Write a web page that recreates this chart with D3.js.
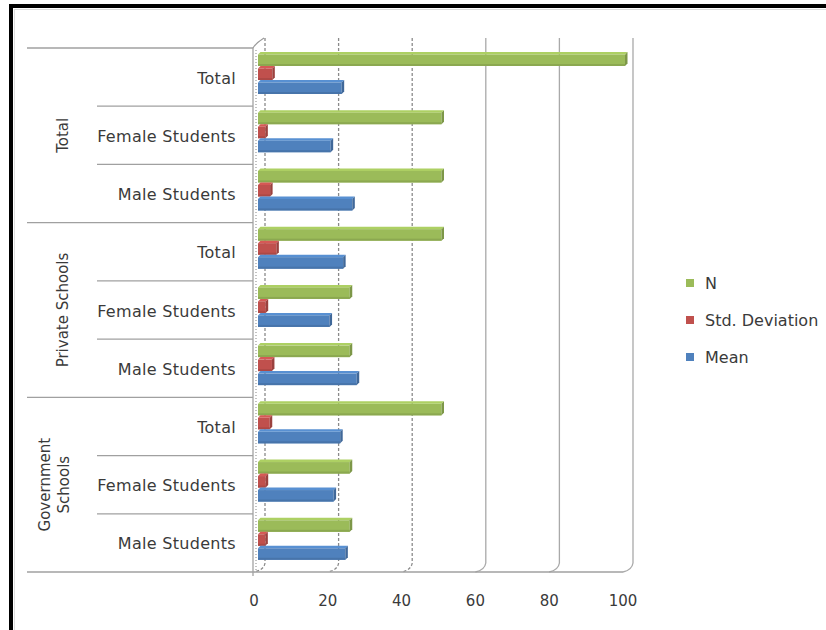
<!DOCTYPE html>
<html>
<head>
<meta charset="utf-8">
<script src="https://cdn.jsdelivr.net/npm/d3@7"></script>
<style>
  html, body { margin: 0; padding: 0; background: #fff; }
  svg { display: block; }
  text { font-family: "DejaVu Sans", sans-serif; fill: #3a3a3a; }
</style>
</head>
<body>
<svg id="chart" width="826" height="630"></svg>
<script>
// ---- data (bottom to top as in the chart) ----
const groups = ["Government Schools", "Private Schools", "Total"];
const subcats = ["Male Students", "Female Students", "Total"];
const series = ["N", "Std. Deviation", "Mean"];
const seriesColors = ["#9bbb59", "#c0504d", "#4f81bd"];
// values per category, order: Gov Male, Gov Female, Gov Total, Priv Male, Priv Female, Priv Total, Tot Male, Tot Female, Tot Total
const nValues    = [25, 25, 50, 25, 25, 50, 50, 50, 100];
const sdValues   = [2.0, 2.1, 3.2, 3.8, 2.1, 5.0, 3.3, 2.0, 3.9];
const meanValues = [23.8, 20.6, 22.4, 26.9, 19.5, 23.2, 25.7, 19.8, 22.8];
const xTicks = [0, 20, 40, 60, 80, 100];

(function () {
const svg = d3.select("#chart");

// frame
svg.append("rect").attr("x", 0).attr("y", 0).attr("width", 826).attr("height", 630).attr("fill", "#fff");
svg.append("rect").attr("x", 9).attr("y", 4).attr("width", 830).attr("height", 640).attr("fill", "#000");
svg.append("rect").attr("x", 13).attr("y", 8).attr("width", 830).attr("height", 640).attr("fill", "#fff");
svg.append("line").attr("x1", 14.5).attr("x2", 14.5).attr("y1", 9).attr("y2", 630).attr("stroke", "#ddd");
svg.append("line").attr("x1", 14).attr("x2", 826).attr("y1", 9.5).attr("y2", 9.5).attr("stroke", "#ddd");

// geometry
const plotTop = 48, plotBottom = 572;
const depthDx = 10, depthDy = -9;
const xFront = d3.scaleLinear().domain([0, 100]).range([254, 623]);
const xBack = d3.scaleLinear().domain([0, 100]).range([254 + depthDx + 1, 623 + depthDx]);
const xBar = d3.scaleLinear().domain([0, 100]).range([258, 625]);

const cats = d3.range(nValues.length);
const yCat = d3.scaleBand().domain(cats.slice().reverse()).range([plotTop, plotBottom]).paddingInner(0);
const ySub = d3.scaleBand().domain(series).range([4, 46]).paddingInner(0);

// back-wall gridlines
xTicks.forEach((t, i) => {
  const xb = xBack(t), xf = xFront(t);
  const p = d3.path();
  p.moveTo(xb, plotTop + depthDy - 1);
  p.lineTo(xb, plotBottom + depthDy);
  p.quadraticCurveTo(xb - 1, plotBottom - 2, xf, plotBottom);
  svg.append("path").attr("d", p.toString())
    .attr("fill", "none")
    .attr("stroke", i < 3 ? "#8a8a8a" : "#a9a9a9")
    .attr("stroke-width", 1.3)
    .attr("stroke-dasharray", i < 3 ? "3,2" : null);
});

// left wall
svg.append("line").attr("x1", 253).attr("x2", 253).attr("y1", plotTop).attr("y2", plotBottom + 4)
  .attr("stroke", "#9a9a9a").attr("stroke-width", 1.2);
svg.append("line").attr("x1", 256).attr("x2", 256).attr("y1", plotTop + 2).attr("y2", plotBottom)
  .attr("stroke", "#999").attr("stroke-width", 1.2).attr("stroke-dasharray", "1,2");
svg.append("path").attr("d", `M253,${plotTop} Q256,${plotTop - 5} ${253 + depthDx + 1},${plotTop + depthDy - 1}`)
  .attr("fill", "none").attr("stroke", "#999").attr("stroke-width", 1.2);

// floor line
svg.append("line").attr("x1", 27).attr("x2", xFront(100)).attr("y1", plotBottom).attr("y2", plotBottom)
  .attr("stroke", "#a0a0a0").attr("stroke-width", 1.3);

// category separators
cats.forEach(c => {
  if (c === cats.length - 1) return;
  if ((c % 3) !== 2) {
    const y = yCat(c);
    svg.append("line").attr("x1", 97).attr("x2", 253).attr("y1", y).attr("y2", y)
      .attr("stroke", "#a0a0a0").attr("stroke-width", 1.3);
  }
});
[2, 5, 8].forEach(k => {
  const y = yCat(k);
  svg.append("line").attr("x1", 27).attr("x2", 253).attr("y1", y).attr("y2", y)
    .attr("stroke", "#a0a0a0").attr("stroke-width", 1.3);
});

// bars
const valueArrays = [nValues, sdValues, meanValues];
const dz = 2.5; // bar depth
function shade(col, k) { return d3.color(col).brighter(k).formatHex(); }
function darker(col, k) { return d3.color(col).darker(k).formatHex(); }

cats.forEach(c => {
  series.forEach((s, si) => {
    const v = valueArrays[si][c];
    const col = seriesColors[si];
    const y0 = yCat(c) + ySub(s);
    const h = ySub.bandwidth();
    const x0 = xBar(0), x1 = xBar(v);
    const g = svg.append("g");
    g.append("path")
      .attr("d", `M${x0},${y0 + dz} L${x0 + dz},${y0} L${x1 + dz},${y0} L${x1},${y0 + dz} Z`)
      .attr("fill", shade(col, 0.3));
    g.append("rect").attr("x", x0).attr("y", y0 + dz).attr("width", x1 - x0).attr("height", h - dz)
      .attr("fill", col);
    g.append("rect").attr("x", x0).attr("y", y0 + h - 2).attr("width", x1 - x0).attr("height", 2)
      .attr("fill", darker(col, 0.3));
    g.append("path")
      .attr("d", `M${x1},${y0 + dz} L${x1 + dz},${y0} L${x1 + dz},${y0 + h - dz} L${x1},${y0 + h} Z`)
      .attr("fill", darker(col, 0.6));
  });
});

// subcategory labels
cats.forEach(c => {
  svg.append("text")
    .attr("x", 236)
    .attr("y", yCat(c) + yCat.bandwidth() / 2 + 2)
    .attr("text-anchor", "end")
    .attr("dominant-baseline", "middle")
    .attr("font-size", 16)
    .attr("letter-spacing", 0.3)
    .text(subcats[c % 3]);
});

// group labels (rotated)
groups.forEach((gname, gi) => {
  const yTop = yCat(gi * 3 + 2), yBot = yCat(gi * 3) + yCat.bandwidth();
  const cy = (yTop + yBot) / 2;
  const lines = gname === "Government Schools" ? ["Government", "Schools"] : [gname];
  const t = svg.append("text")
    .attr("transform", `translate(${lines.length > 1 ? 45 : 63},${cy}) rotate(-90)`)
    .attr("text-anchor", "middle")
    .attr("dominant-baseline", "middle")
    .attr("font-size", 15);
  lines.forEach((ln, li) => {
    t.append("tspan").attr("x", 0).attr("dy", li === 0 ? 0 : 19).text(ln);
  });
});

// x axis tick labels
svg.selectAll(".xt").data(xTicks).enter().append("text")
  .attr("x", d => xFront(d))
  .attr("y", 601)
  .attr("text-anchor", "middle")
  .attr("dominant-baseline", "middle")
  .attr("font-size", 15)
  .text(d => d);

// legend
series.forEach((s, i) => {
  const y = 283 + i * 37;
  svg.append("rect").attr("x", 686).attr("y", y - 4).attr("width", 8).attr("height", 8).attr("fill", seriesColors[i]);
  svg.append("text").attr("x", 705).attr("y", y + 1).attr("dominant-baseline", "middle")
    .attr("font-size", 16).text(s);
});
})();
</script>
</body>
</html>
